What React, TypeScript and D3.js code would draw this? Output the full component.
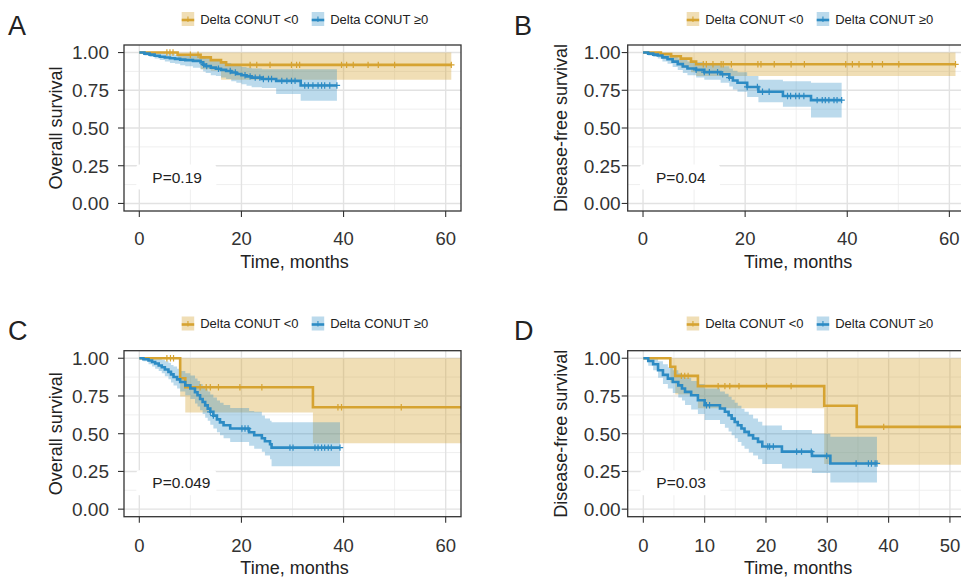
import React, { useEffect, useRef } from 'react';
import * as d3 from 'd3';

// ---- values (time in months, survival probability) ----

// A: overall survival, cohort 1
const aGoldTime = [0, 7.5, 12, 14, 16, 17];
const aGoldSurv = [1, 0.985, 0.968, 0.95, 0.935, 0.918];
const aGoldLower = [1, 0.95, 0.89, 0.88, 0.82, 0.82];
const aGoldUpper = [1, 1, 1, 1, 1, 1];
const aGoldCensor = [5.4, 6, 6.6, 10, 11.5, 21.7, 23, 25.6, 29.8, 30.8, 31.4, 39.6, 40.6, 41.9, 44.8, 46.8, 50, 61.1];
const aGoldEnd = 61.1;

const aBlueTime = [0, 1, 2, 3, 4, 5, 6, 7, 8, 9, 10.5, 12, 12.5, 13, 14, 15, 16, 17, 18, 19, 20, 21, 22, 24, 26.8, 31.6];
const aBlueSurv = [1, 0.993, 0.986, 0.979, 0.972, 0.967, 0.962, 0.958, 0.953, 0.95, 0.945, 0.935, 0.92, 0.91, 0.9, 0.893, 0.885, 0.878, 0.868, 0.858, 0.85, 0.842, 0.834, 0.825, 0.812, 0.782];
const aBlueLower = [1, 0.98, 0.97, 0.96, 0.95, 0.94, 0.93, 0.925, 0.915, 0.91, 0.9, 0.89, 0.875, 0.865, 0.85, 0.845, 0.835, 0.825, 0.81, 0.8, 0.79, 0.78, 0.77, 0.765, 0.725, 0.68];
const aBlueUpper = [1, 1, 1, 1, 0.995, 0.99, 0.99, 0.985, 0.985, 0.98, 0.98, 0.975, 0.965, 0.96, 0.95, 0.945, 0.935, 0.93, 0.92, 0.915, 0.905, 0.9, 0.895, 0.89, 0.89, 0.89];
const aBlueCensor = [12.6, 13.2, 15.5, 17.8, 18.8, 20.7, 21.7, 22.7, 23.6, 24.3, 25.3, 25.9, 27.9, 28.9, 29.8, 30.5, 32.4, 33.1, 34, 35, 35.7, 36.3, 37.3, 38.7];
const aBlueEnd = 38.7;

// B: disease-free survival, cohort 1
const bGoldTime = [0, 3.5, 5.5, 7.4, 9.4, 10.4];
const bGoldSurv = [1, 0.99, 0.975, 0.96, 0.94, 0.922];
const bGoldLower = [1, 0.96, 0.93, 0.9, 0.87, 0.845];
const bGoldUpper = [1, 1, 1, 1, 1, 1];
const bGoldCensor = [11.8, 12.4, 13.7, 15.3, 15.7, 17.3, 22.5, 23.1, 25.7, 29, 31.6, 39.7, 41, 42.3, 44.9, 46.9, 50.1, 61.2];
const bGoldEnd = 61.2;

const bBlueTime = [0, 1, 2, 2.9, 3.8, 4.8, 5.8, 6.8, 7.8, 8.7, 10.4, 12, 15.2, 16.9, 17.6, 18.5, 20.4, 22.6, 27.4, 32.9];
const bBlueSurv = [1, 0.993, 0.986, 0.98, 0.968, 0.956, 0.94, 0.923, 0.908, 0.894, 0.885, 0.87, 0.856, 0.834, 0.815, 0.8, 0.772, 0.74, 0.712, 0.685];
const bBlueLower = [1, 0.98, 0.97, 0.96, 0.94, 0.925, 0.905, 0.885, 0.865, 0.85, 0.835, 0.82, 0.8, 0.775, 0.755, 0.74, 0.705, 0.67, 0.64, 0.57];
const bBlueUpper = [1, 1, 1, 0.995, 0.99, 0.985, 0.975, 0.96, 0.95, 0.94, 0.935, 0.925, 0.91, 0.895, 0.88, 0.87, 0.845, 0.82, 0.81, 0.8];
const bBlueCensor = [10.4, 12, 13, 14.6, 15.6, 16.9, 20.4, 22.4, 23.4, 24.7, 28.3, 28.9, 29.9, 30.6, 31.5, 34.1, 35.1, 35.7, 36.4, 37.4, 38, 38.9];
const bBlueEnd = 38.9;

// C: overall survival, cohort 2
const cGoldTime = [0, 8, 9, 34];
const cGoldSurv = [1, 0.867, 0.808, 0.675];
const cGoldLower = [1, 0.746, 0.64, 0.437];
const cGoldUpper = [1, 1, 1, 1];
const cGoldCensor = [5.4, 6.1, 6.7, 11.9, 13.1, 13.9, 15.5, 19.7, 24, 38.9, 39.6, 51.3];
const cGoldEnd = 66;

const cBlueTime = [0, 0.8, 1.8, 2.5, 3.1, 3.8, 4.4, 5, 5.7, 6.2, 6.7, 7.4, 8, 9, 10, 10.9, 11.4, 11.9, 12.4, 12.9, 13.4, 13.9, 14.5, 15.2, 15.8, 16.5, 17.8, 21.5, 22.5, 24, 24.6, 25.6, 25.9];
const cBlueSurv = [1, 0.993, 0.985, 0.975, 0.965, 0.952, 0.94, 0.925, 0.91, 0.893, 0.876, 0.86, 0.843, 0.82, 0.8, 0.775, 0.755, 0.73, 0.71, 0.688, 0.666, 0.645, 0.62, 0.595, 0.575, 0.556, 0.534, 0.51, 0.49, 0.47, 0.45, 0.43, 0.408];
const cBlueLower = [1, 0.98, 0.96, 0.945, 0.93, 0.915, 0.9, 0.88, 0.86, 0.84, 0.82, 0.8, 0.78, 0.755, 0.73, 0.7, 0.68, 0.655, 0.63, 0.605, 0.585, 0.56, 0.535, 0.51, 0.49, 0.47, 0.445, 0.42, 0.4, 0.38, 0.355, 0.33, 0.285];
const cBlueUpper = [1, 1, 1, 1, 1, 0.995, 0.99, 0.98, 0.97, 0.955, 0.945, 0.93, 0.915, 0.9, 0.885, 0.865, 0.85, 0.83, 0.815, 0.795, 0.78, 0.76, 0.74, 0.72, 0.705, 0.69, 0.67, 0.65, 0.645, 0.62, 0.6, 0.585, 0.576];
const cBlueCensor = [13.9, 14.5, 20.1, 20.7, 21.3, 29.5, 30.1, 34.4, 35, 35.7, 36.3, 37, 37.6, 39.3];
const cBlueEnd = 39.3;

// D: disease-free survival, cohort 2
const dGoldTime = [0, 4.4, 5.2, 8.9, 29.5, 34.8];
const dGoldSurv = [1, 0.944, 0.883, 0.815, 0.685, 0.545];
const dGoldLower = [1, 0.84, 0.76, 0.669, 0.3, 0.295];
const dGoldUpper = [1, 1, 1, 1, 1, 1];
const dGoldCensor = [6.2, 6.75, 7.3, 12.2, 13.3, 14.1, 15.6, 20.1, 24.1, 39.2];
const dGoldEnd = 56;

const dBlueTime = [0, 0.8, 1.6, 2.4, 3.2, 4, 4.8, 5.7, 6.3, 6.8, 7.8, 8.9, 10, 12.5, 13.3, 13.9, 14.4, 14.9, 15.4, 16, 16.5, 17.2, 17.9, 18.7, 19.4, 22.6, 27.5, 30.5];
const dBlueSurv = [1, 0.982, 0.96, 0.92, 0.89, 0.865, 0.843, 0.82, 0.8, 0.777, 0.755, 0.722, 0.689, 0.667, 0.645, 0.622, 0.6, 0.578, 0.556, 0.534, 0.512, 0.49, 0.468, 0.446, 0.415, 0.381, 0.353, 0.303];
const dBlueLower = [1, 0.95, 0.92, 0.87, 0.83, 0.8, 0.77, 0.74, 0.72, 0.69, 0.66, 0.63, 0.59, 0.565, 0.54, 0.515, 0.49, 0.47, 0.445, 0.42, 0.4, 0.375, 0.355, 0.33, 0.3, 0.27, 0.24, 0.176];
const dBlueUpper = [1, 1, 1, 0.98, 0.96, 0.94, 0.92, 0.9, 0.89, 0.87, 0.85, 0.83, 0.8, 0.78, 0.765, 0.745, 0.725, 0.705, 0.685, 0.665, 0.645, 0.625, 0.6, 0.58, 0.555, 0.525, 0.5, 0.48];
const dBlueCensor = [10.3, 10.8, 20.3, 20.6, 21.2, 25, 25.8, 27.4, 29.9, 34.7, 36.7, 37.2, 37.8, 38.1];
const dBlueEnd = 38.1;

const legendLabels = ['Delta CONUT <0', 'Delta CONUT \u22650'];
const yTicks = [0, 0.25, 0.5, 0.75, 1];
const yMinor = [0.125, 0.375, 0.625, 0.875];

const GOLD = '#D6A331';
const BLUE = '#2C8BC4';
const FONT = '"Liberation Sans", Arial, Helvetica, sans-serif';

const curve = (time, surv, lower, upper, censor, end, color) => ({ time, surv, lower, upper, censor, end, color });

const panels = [
  {
    id: 'A', left: 124, top: 45, xDomain: [-3, 63], xWidth: 337,
    xTicks: [0, 20, 40, 60], xMinor: [10, 30, 50], yTitle: 'Overall survival', pval: 'P=0.19',
    curves: [curve(aGoldTime, aGoldSurv, aGoldLower, aGoldUpper, aGoldCensor, aGoldEnd, GOLD),
      curve(aBlueTime, aBlueSurv, aBlueLower, aBlueUpper, aBlueCensor, aBlueEnd, BLUE)],
    letterX: 8, letterY: 35, yTitleX: 61.5, yLabGap: 15, tickBase: 245, titleBase: 268, legendX: 181.7, legendY: 19,
  },
  {
    id: 'B', left: 627.7, top: 45, xDomain: [-3, 63], xWidth: 337,
    xTicks: [0, 20, 40, 60], xMinor: [10, 30, 50], yTitle: 'Disease-free survival', pval: 'P=0.04',
    curves: [curve(bGoldTime, bGoldSurv, bGoldLower, bGoldUpper, bGoldCensor, bGoldEnd, GOLD),
      curve(bBlueTime, bBlueSurv, bBlueLower, bBlueUpper, bBlueCensor, bBlueEnd, BLUE)],
    letterX: 514, letterY: 35, yTitleX: 566.5, yLabGap: 7, tickBase: 245, titleBase: 268, legendX: 686.7, legendY: 19,
  },
  {
    id: 'C', left: 124, top: 350.7, xDomain: [-3, 63], xWidth: 337,
    xTicks: [0, 20, 40, 60], xMinor: [10, 30, 50], yTitle: 'Overall survival', pval: 'P=0.049',
    curves: [curve(cGoldTime, cGoldSurv, cGoldLower, cGoldUpper, cGoldCensor, cGoldEnd, GOLD),
      curve(cBlueTime, cBlueSurv, cBlueLower, cBlueUpper, cBlueCensor, cBlueEnd, BLUE)],
    letterX: 8, letterY: 340, yTitleX: 61.5, yLabGap: 15, tickBase: 552, titleBase: 574, legendX: 181.7, legendY: 323.5,
  },
  {
    id: 'D', left: 627.7, top: 350.7, xDomain: [-2.55, 53.55], xWidth: 344,
    xTicks: [0, 10, 20, 30, 40, 50], xMinor: [5, 15, 25, 35, 45], yTitle: 'Disease-free survival', pval: 'P=0.03',
    curves: [curve(dGoldTime, dGoldSurv, dGoldLower, dGoldUpper, dGoldCensor, dGoldEnd, GOLD),
      curve(dBlueTime, dBlueSurv, dBlueLower, dBlueUpper, dBlueCensor, dBlueEnd, BLUE)],
    letterX: 514, letterY: 340, yTitleX: 566.5, yLabGap: 7, tickBase: 552, titleBase: 574, legendX: 686.7, legendY: 323.5,
  },
];

const PANEL_W = 337;
const PANEL_H = 166;

const stepAt = (times, vals, t) => {
  let v = vals[0];
  for (let i = 0; i < times.length; i++) if (times[i] <= t) v = vals[i];
  return v;
};

const drawPanel = (svg, p) => {
  const g = svg.append('g');
  const bottom = p.top + PANEL_H;
  const right = p.left + PANEL_W;
  const x = d3.scaleLinear().domain(p.xDomain).range([p.left, p.left + p.xWidth]);
  const y = d3.scaleLinear().domain([-0.05, 1.05]).range([bottom, p.top]);

  const clipId = 'clip-' + p.id;
  svg.append('clipPath').attr('id', clipId)
    .append('rect').attr('x', p.left).attr('y', p.top).attr('width', PANEL_W).attr('height', PANEL_H);

  // grid
  const grid = g.append('g');
  grid.selectAll('.vminor').data(p.xMinor).join('line')
    .attr('x1', d => x(d)).attr('x2', d => x(d)).attr('y1', p.top).attr('y2', bottom)
    .attr('stroke', '#EDEDED').attr('stroke-width', 0.9);
  grid.selectAll('.hminor').data(yMinor).join('line')
    .attr('x1', p.left).attr('x2', right).attr('y1', d => y(d)).attr('y2', d => y(d))
    .attr('stroke', '#EDEDED').attr('stroke-width', 0.9);
  grid.selectAll('.vmajor').data(p.xTicks).join('line')
    .attr('x1', d => x(d)).attr('x2', d => x(d)).attr('y1', p.top).attr('y2', bottom)
    .attr('stroke', '#E2E2E2').attr('stroke-width', 1.4);
  grid.selectAll('.hmajor').data(yTicks).join('line')
    .attr('x1', p.left).attr('x2', right).attr('y1', d => y(d)).attr('y2', d => y(d))
    .attr('stroke', '#E2E2E2').attr('stroke-width', 1.4);

  // p-value label box
  const px = x(0) + 13;
  const pBase = p.top + 137.5;
  g.append('rect').attr('x', px - 16).attr('y', pBase - 18).attr('width', 80).attr('height', 25)
    .attr('rx', 3).attr('fill', '#fff');
  g.append('text').attr('x', px).attr('y', pBase).attr('font-size', 15.5).attr('fill', '#222')
    .attr('font-family', FONT).text(p.pval);

  const plot = g.append('g').attr('clip-path', `url(#${clipId})`);
  const series = p.curves.map(c => {
    const pts = c.time.map((t, i) => ({ t, s: c.surv[i], lo: c.lower[i], hi: c.upper[i] }));
    const last = pts[pts.length - 1];
    pts.push({ t: c.end, s: last.s, lo: last.lo, hi: last.hi });
    return { c, pts };
  });

  const area = d3.area().curve(d3.curveStepAfter)
    .x(d => x(d.t)).y0(d => y(d.lo)).y1(d => y(d.hi));
  const line = d3.line().curve(d3.curveStepAfter).x(d => x(d.t)).y(d => y(d.s));

  series.forEach(({ c, pts }) => {
    plot.append('path').attr('d', area(pts)).attr('fill', c.color)
      .attr('fill-opacity', c.color === GOLD ? 0.36 : 0.32);
  });
  series.forEach(({ c, pts }) => {
    plot.append('path').attr('d', line(pts)).attr('fill', 'none').attr('stroke', c.color)
      .attr('stroke-width', 2.6);
  });
  series.forEach(({ c }) => {
    plot.append('g').selectAll('path').data(c.censor).join('path')
      .attr('d', d => {
        const cx = x(d), cy = y(stepAt(c.time, c.surv, d));
        return `M${cx},${cy - 3.2}V${cy + 3.2}M${cx - 3.2},${cy}H${cx + 3.2}`;
      })
      .attr('stroke', c.color).attr('stroke-width', 1.2).attr('fill', 'none');
  });

  // panel border
  g.append('rect').attr('x', p.left).attr('y', p.top).attr('width', PANEL_W).attr('height', PANEL_H)
    .attr('fill', 'none').attr('stroke', '#333').attr('stroke-width', 1.3);

  // y axis
  g.selectAll('.ytick').data(yTicks).join('line')
    .attr('x1', p.left - 6).attr('x2', p.left).attr('y1', d => y(d)).attr('y2', d => y(d))
    .attr('stroke', '#333').attr('stroke-width', 1.1);
  g.selectAll('.ylab').data(yTicks).join('text')
    .attr('x', p.left - p.yLabGap).attr('y', d => y(d)).attr('dy', '0.36em')
    .attr('text-anchor', 'end').attr('font-size', 19).attr('fill', '#333').attr('font-family', FONT)
    .text(d => d3.format('.2f')(d));
  g.append('text')
    .attr('transform', `translate(${p.yTitleX},${p.top + PANEL_H / 2}) rotate(-90)`)
    .attr('text-anchor', 'middle').attr('font-size', 18).attr('fill', '#222').attr('font-family', FONT)
    .text(p.yTitle);

  // x axis
  g.selectAll('.xtick').data(p.xTicks).join('line')
    .attr('x1', d => x(d)).attr('x2', d => x(d)).attr('y1', bottom).attr('y2', bottom + 6)
    .attr('stroke', '#333').attr('stroke-width', 1.1);
  g.selectAll('.xlab').data(p.xTicks).join('text')
    .attr('x', d => x(d)).attr('y', p.tickBase).attr('text-anchor', 'middle')
    .attr('font-size', 18.5).attr('fill', '#333').attr('font-family', FONT)
    .text(d => d);
  g.append('text').attr('x', p.left + PANEL_W / 2 + 2).attr('y', p.titleBase)
    .attr('text-anchor', 'middle').attr('font-size', 18).attr('fill', '#222').attr('font-family', FONT)
    .text('Time, months');

  // legend
  p.curves.forEach((c, i) => {
    const lx = p.legendX + i * 130;
    const ly = p.legendY;
    g.append('rect').attr('x', lx).attr('y', ly - 7).attr('width', 12.5).attr('height', 14)
      .attr('fill', c.color).attr('fill-opacity', c.color === GOLD ? 0.36 : 0.32);
    g.append('line').attr('x1', lx).attr('x2', lx + 12.5).attr('y1', ly + 1).attr('y2', ly + 1)
      .attr('stroke', c.color).attr('stroke-width', 2.6);
    g.append('line').attr('x1', lx + 6.25).attr('x2', lx + 6.25).attr('y1', ly - 2.5).attr('y2', ly + 3)
      .attr('stroke', c.color).attr('stroke-width', 1.1);
    g.append('text').attr('x', lx + 18.5).attr('y', ly + 4.7).attr('font-size', 13)
      .attr('fill', '#222').attr('font-family', FONT).text(legendLabels[i]);
  });

  // panel letter
  g.append('text').attr('x', p.letterX).attr('y', p.letterY).attr('font-size', 27)
    .attr('fill', '#222').attr('font-family', FONT).text(p.id);
};

const App = () => {
  const svgRef = useRef(null);

  useEffect(() => {
    const svg = d3.select(svgRef.current);
    svg.selectAll('*').remove();
    svg.append('rect').attr('width', 961).attr('height', 577).attr('fill', '#fff');
    panels.forEach(p => drawPanel(svg, p));
  }, []);

  return (
    <svg
      ref={svgRef}
      width="961"
      height="577"
      style={{ position: 'absolute', left: 0, top: 0, display: 'block' }}
    />
  );
};

export default App;
